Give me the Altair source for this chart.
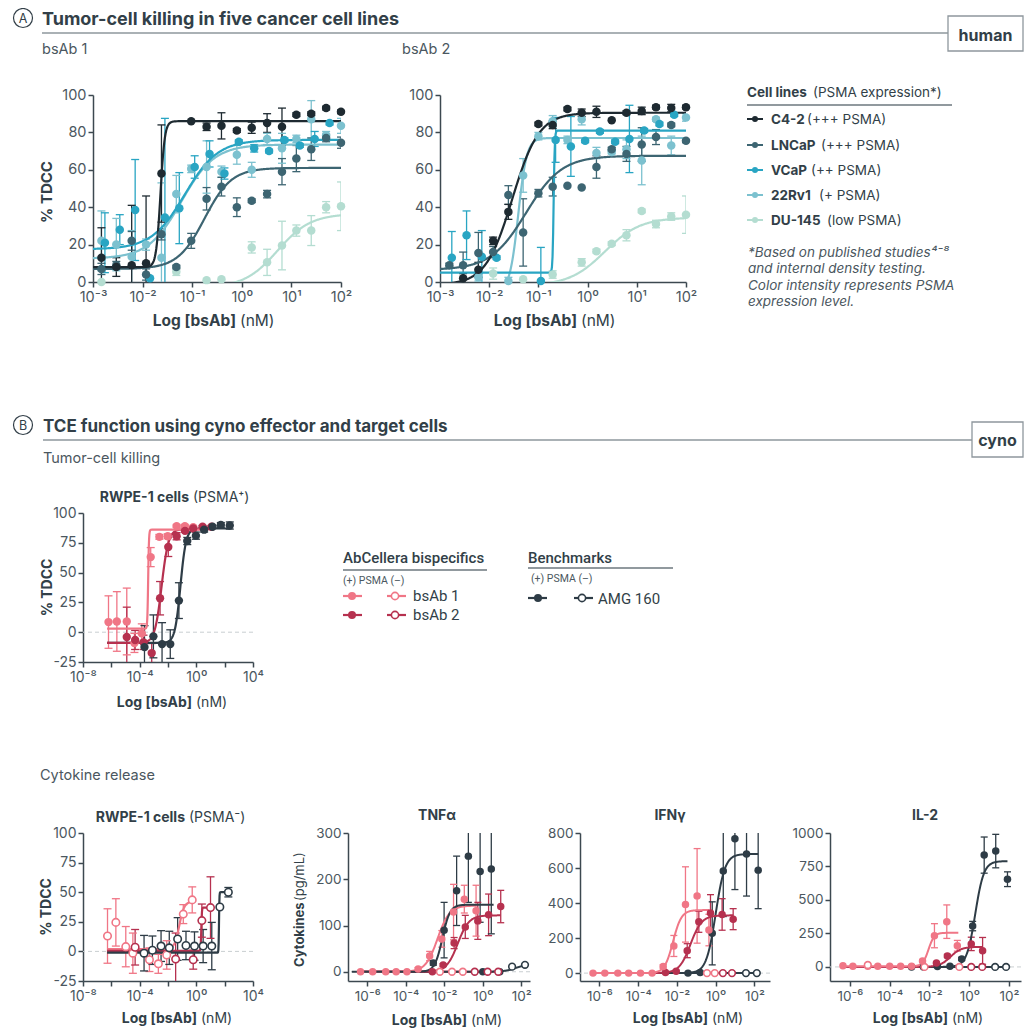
import altair as alt
import pandas as pd

FONT = "Inter"
LEGB_FONT = "Roboto"
INK = "#323f48"
SOFT = "#4b5760"
AXIS = "#3c4850"
RULE = "#8e979d"
ULINE = "#6d777e"

CELL_LINES = ["DU-145", "22Rv1", "VCaP", "LNCaP", "C4-2"]
CELL_COLORS = ["#b4ddd1", "#7cc1cf", "#29a5c3", "#3d6572", "#1e2a31"]
AGENTS = ["bsAb 1", "bsAb 2", "AMG 160"]
AGENT_COLORS = ["#f07686", "#b6314f", "#2e3c46"]

# ---------------- Panel A : bsAb 1 (x = log10 nM, y = % TDCC, e = error) ----------------
A1_C42_X = [-2.83, -2.53, -2.22, -1.93, -1.62, -1.02, -0.71, -0.41, -0.10, 0.20, 0.51, 0.81, 1.10, 1.40, 1.70, 2.00]
A1_C42_Y = [13, 8, 9, 10, 58, 86, 83, 83.5, 81, 82.5, 85, 83, 89.5, 90, 93, 91]
A1_C42_E = [16, 5, 32, 36, 26, 0, 2, 7, 1, 3, 5, 10, 1, 1, 1, 1]
A1_LNC_X = [-2.83, -2.53, -2.22, -1.93, -1.62, -1.32, -1.02, -0.71, -0.41, -0.10, 0.20, 0.51, 0.81, 1.10, 1.40, 1.70, 2.00]
A1_LNC_Y = [7, 9, 22, 4, 25.5, 8, 22, 44.5, 51, 40, 43.5, 47, 59, 66, 71, 77, 74.5]
A1_LNC_E = [3, 2, 5, 3, 3, 1, 4, 6, 5, 5, 1, 2, 7, 7, 6, 2, 3]
A1_VCP_X = [-2.76, -2.46, -2.15, -1.85, -1.55, -1.26, -0.95, -0.65, -0.35, -0.06, 0.25, 0.55, 0.86, 1.17, 1.47, 1.77]
A1_VCP_Y = [21, 28, 38.5, 2, 34.5, 39.5, 61.5, 68.5, 58, 75, 71.5, 70, 76, 73, 76.5, 85]
A1_VCP_E = [16, 8, 27, 0, 53, 19, 6, 7, 3, 1, 2, 1, 1, 1, 4, 1]
A1_22R_X = [-2.83, -2.53, -2.22, -1.93, -1.62, -1.32, -1.02, -0.71, -0.41, -0.10, 0.20, 0.51, 0.81, 1.10, 1.40, 1.70, 2.00]
A1_22R_Y = [22, 20, 13.5, 20, 13, 47, 60.5, 61.5, 59, 68, 60, 76.5, 71.5, 76.5, 87, 78.5, 83.5]
A1_22R_E = [16, 14, 14, 3, 40, 10, 2, 14, 3, 5, 4, 3, 8, 2, 10, 2, 4]
A1_DU_X = [-2.83, -1.32, -0.71, -0.41, 0.20, 0.51, 0.81, 1.10, 1.40, 1.70, 2.00]
A1_DU_Y = [0, 5.5, 1, 1.5, 18.5, 10.5, 19.5, 27.5, 27.5, 40, 40.5]
A1_DU_E = [0, 2, 0, 0, 3, 7, 13, 3, 8, 3, 13]
# fitted 4PL curves: (series, kind, bottom, top, logEC50, hill, x from, x to)
A1_CURVES = [("DU-145", "f", -3, 36.5, 0.72, 1.3, -3, 2), ("22Rv1", "f", 12.5, 73.5, -1.22, 1.3, -3, 2),
             ("VCaP", "f", 17.5, 76, -1.15, 1.3, -3, 2), ("LNCaP", "f", 7, 61, -0.75, 1.6, -3, 2),
             ("C4-2", "f", 8, 86, -1.64, 10, -3, 2)]

# ---------------- Panel A : bsAb 2 ----------------
A2_C42_X = [-2.53, -2.22, -1.92, -1.61, -1.00, -0.71, -0.41, -0.12, 0.18, 0.49, 0.79, 1.10, 1.39, 1.70, 2.00]
A2_C42_Y = [2, 6.5, 22, 37.5, 84.5, 84, 92.5, 90.5, 91, 86.5, 90.5, 91.5, 93.5, 93, 93.5]
A2_C42_E = [2.5, 4, 2, 4, 1, 2, 1, 2, 3, 0, 1, 2, 1, 2, 1]
A2_LNC_X = [-2.81, -2.53, -2.22, -1.92, -1.61, -1.31, -1.00, -0.71, -0.41, -0.12, 0.18, 0.49, 0.79, 1.10, 1.39, 1.70, 2.00]
A2_LNC_Y = [9, 9, 15.5, 16, 46.5, 26.5, 47.5, 51, 51.5, 50.5, 61.5, 71, 68.5, 73.5, 77.5, 84, 75.5]
A2_LNC_E = [1, 7, 11, 3, 5, 18, 2, 5, 0, 0, 6, 1, 4, 9, 4, 1, 1]
A2_VCP_X = [-2.76, -2.46, -2.15, -1.85, -0.95, -0.65, -0.34, -0.05, 0.25, 0.56, 0.85, 1.15, 1.46, 1.76]
A2_VCP_Y = [13, 25, 13.5, 13, 0.5, 76, 72.5, 75.5, 80.5, 75, 76.5, 81, 84.5, 89.5]
A2_VCP_E = [14, 13, 14, 1, 18, 12, 16, 1, 1, 1, 18, 1, 1, 1]
A2_22R_X = [-2.22, -1.61, -1.31, -1.00, -0.71, -0.41, -0.12, 0.18, 0.49, 0.79, 1.10, 1.39, 1.70, 2.00]
A2_22R_Y = [2.5, 0.5, 57, 78, 86, 76, 87, 69, 69.5, 71, 65, 87, 73, 88]
A2_22R_E = [2, 2, 9, 2, 3, 2, 3, 3, 1, 5, 13, 1, 5, 2]
A2_DU_X = [-1.92, -1.31, -0.71, -0.12, 0.18, 0.49, 0.79, 1.10, 1.39, 1.70, 2.00]
A2_DU_Y = [4.5, 1.5, 4, 10.5, 16.5, 20.5, 25, 38, 31, 35, 36]
A2_DU_E = [3, 0, 2, 2, 1, 1, 3, 1, 2, 2, 10]
A2_CURVES = [("DU-145", "f", -2, 34.5, 0.35, 1.2, -3, 2), ("22Rv1", "f", -5, 77, -1.41, 5, -3, 2),
             ("VCaP", "f", 5, 81, -0.69, 40, -3, 2), ("LNCaP", "f", 6.5, 67.5, -1.25, 1.2, -3, 2),
             ("C4-2", "f", -1.5, 90.5, -1.53, 1.6, -3, 2)]

# ---------------- Panel B : RWPE-1 PSMA+ killing ----------------
P_B1_X = [-6.20, -5.61, -4.91, -4.37, -3.85, -3.22, -2.61, -2.02, -1.39, -0.81, -0.22]
P_B1_Y = [8.5, 9, 9, -9, -1, 63, 80, 80.5, 89, 89, 88]
P_B1_E = [22, 25, 28, 8, 8, 8, 2, 2, 1, 1, 1]
P_B2_X = [-4.91, -4.32, -3.73, -3.15, -2.56, -1.98, -1.39, -0.80, -0.22, 0.44, 1.07]
P_B2_Y = [-4, -6.5, -8.5, -17.5, 28.5, 71.5, 80.5, 85, 87, 88.5, 88.5]
P_B2_E = [25, 8, 6, 8, 14, 8, 3, 1, 1, 1, 1]
P_AMG_X = [-3.66, -3.03, -2.42, -1.84, -1.23, -0.64, -0.03, 0.55, 1.14, 1.73, 2.36]
P_AMG_Y = [-12.5, -3.5, -10, -10, 26.5, 76.5, 81, 86, 88.5, 90, 89.5]
P_AMG_E = [18, 18, 18, 12, 15, 3, 3, 2, 1, 2, 3]
P_CURVES = [("AMG 160", "f", -9, 87, -1.12, 2.2, -6.3, 2.4), ("bsAb 2", "f", -9, 86.5, -2.45, 1.8, -6.3, 1.1),
            ("bsAb 1", "f", 3, 86, -3.4, 15, -6.3, 0.6)]

# ---------------- Panel B : RWPE-1 PSMA- killing ----------------
N_B1_X = [-6.27, -5.68, -4.98, -4.48, -3.31, -2.68, -2.09, -0.92, -0.29]
N_B1_Y = [13, 24.5, 4, -1.5, -7, -10.5, -3, 31.5, 43.5]
N_B1_E = [23, 20, 17, 17, 10, 8, 12, 8, 11]
N_B2_X = [-4.32, -1.46, -0.22, 0.39, 1.00]
N_B2_Y = [3.5, -6.5, -7, 26, 37]
N_B2_E = [15, 22, 8, 14, 26]
N_AMG_X = [-3.69, -3.10, -2.49, -1.91, -1.32, -0.73, -0.13, 0.48, 1.09, 1.66, 2.26]
N_AMG_Y = [-1.5, 1, 4.5, 3, 10.5, 5, 4.5, 4.5, 4.5, 37.5, 50]
N_AMG_E = [15, 12, 13, 14, 18, 12, 12, 14, 20, 0, 4]
N_CURVES = [("bsAb 1", "o", 2, 42, -1.2, 2.5, -6.3, -0.29), ("bsAb 2", "o", 0.5, 37, 0.35, 20, -6.3, 1.0),
            ("AMG 160", "o", -1, 50, 1.6, 30, -6.3, 2.26)]

# ---------------- Cytokines : TNFa (pg/mL) ----------------
T_B1_X = [-6.35, -5.72, -5.04, -4.50, -3.94, -3.36, -2.76, -2.13, -1.52, -0.96, -0.35]
T_B1_Y = [0, 0, 0, 0, 0, 6, 34, 71, 129, 157, 132]
T_B1_E = [0, 0, 0, 0, 0, 3, 10, 18, 60, 30, 55]
T_B2_X = [-2.62, -2.06, -1.49, -0.91, -0.26, 0.30, 0.93]
T_B2_Y = [0, 14.5, 62, 97, 110, 123, 141]
T_B2_E = [0, 3, 12, 25, 40, 45, 35]
T_AMG_X = [-2.57, -2.01, -1.36, -0.75, -0.14, 0.44, 0.00, 0.88]
T_AMG_Y = [19, 90, 175, 250, 217, 222, 0, 0]
T_AMG_E = [5, 60, 75, 100, 110, 140, 0, 0]
T_B1N_X = [-2.23, -1.60, -1.04]
T_B2N_X = [-0.42, 0.25, 0.80]
T_AMGN_X = [1.52, 2.19]
T_AMGN_Y = [11, 15]
T_CURVES = [("bsAb 1", "o", 0, 0, 0, 1, -6.35, -1.04), ("bsAb 2", "o", 0, 0, 0, 1, -6.35, 0.8),
            ("AMG 160", "o", 0, 16, 1.7, 1.5, -6.35, 2.19), ("bsAb 2", "f", 0, 122, -1.3, 1.5, -6.35, 0.93),
            ("bsAb 1", "f", 0, 143, -2.35, 1.4, -6.35, -0.35), ("AMG 160", "f", 0, 145, -2.1, 2.2, -6.8, 0.56)]

# ---------------- Cytokines : IFNg ----------------
I_B1_X = [-6.33, -5.72, -5.05, -4.49, -3.88, -3.28, -2.71, -2.16, -1.56, -0.96, -0.35]
I_B1_Y = [0, 0, 0, 0, 0, 0, 38, 155, 392, 441, 246]
I_B1_E = [0, 0, 0, 0, 0, 0, 10, 60, 215, 270, 90]
I_B2_X = [-2.59, -2.04, -1.47, -0.87, -0.27, 0.33, 0.90]
I_B2_Y = [4, 10, 128, 293, 343, 335, 308]
I_B2_E = [0, 5, 40, 60, 105, 90, 60]
I_AMG_X = [-1.43, -0.80, -0.18, 0.39, 0.99, 1.59, 2.19]
I_AMG_Y = [0, 3, 227, 583, 767, 680, 588]
I_AMG_E = [0, 0, 180, 260, 290, 240, 220]
I_B1N_X = [-0.45, -0.05]
I_B2N_X = [0.37, 0.84]
I_AMGN_X = [1.56, 2.12]
I_CURVES = [("bsAb 1", "o", 0, 0, 0, 1, -6.33, -0.05), ("bsAb 2", "o", 0, 0, 0, 1, -6.33, 0.84),
            ("AMG 160", "o", 0, 0, 0, 1, -6.33, 2.12), ("AMG 160", "f", 0, 680, 0.0, 1.8, -6.33, 2.19),
            ("bsAb 2", "f", 0, 330, -1.3, 1.5, -6.33, 0.90), ("bsAb 1", "f", 0, 360, -2.2, 2.0, -6.33, -0.35)]

# ---------------- Cytokines : IL-2 ----------------
L_B1_X = [-6.35, -5.85, -5.10, -4.60, -4.00, -3.45, -2.90, -2.35, -1.75, -1.13, -0.60]
L_B1_Y = [8, 5, 5, 5, 5, 5, 5, 45, 233, 338, 158]
L_B1_E = [0, 0, 0, 0, 0, 0, 0, 10, 90, 125, 40]
L_B2_X = [-1.65, -1.10, 0.10, 0.67]
L_B2_Y = [30, 82, 172, 120]
L_B2_E = [5, 12, 50, 100]
L_AMG_X = [-2.90, -2.30, -1.60, -0.97, -0.38, 0.17, 0.75, 1.33, 1.92]
L_AMG_Y = [0, 0, 3, 5, 60, 305, 835, 865, 655]
L_AMG_E = [0, 0, 0, 0, 12, 35, 135, 125, 55]
L_B1N_X = [-5.10, -2.25, -0.50]
L_B1N_Y = [15, 0, 0]
L_B2N_X = [0.10, 0.65]
L_AMGN_X = [1.30, 1.85]
L_CURVES = [("bsAb 1", "o", 0, 0, 0, 1, -6.35, -0.5), ("bsAb 2", "o", 0, 0, 0, 1, -6.35, 0.65),
            ("AMG 160", "o", 0, 0, 0, 1, -6.35, 1.85), ("AMG 160", "f", 0, 790, 0.3, 2.0, -6.35, 1.92),
            ("bsAb 2", "f", 0, 150, -0.95, 1.6, -6.35, 0.67), ("bsAb 1", "f", 5, 255, -2.05, 3, -6.35, -0.55)]

# ------------------------------------------------------------------------------------------
ONE = pd.DataFrame({"a": [0]})
SUPS = str.maketrans("-0123456789", "⁻⁰¹²³⁴⁵⁶⁷⁸⁹")


def pow_label(n):
    return "10" + str(n).translate(SUPS)


def lab_expr(ns):
    return " : ".join(f"datum.value == {n} ? '{pow_label(n)}'" for n in ns) + " : ''"


def pts_df(rows):
    recs = []
    for s, k, xs, ys, es in rows:
        ys = ys if ys is not None else [0] * len(xs)
        es = es if es is not None else [0] * len(xs)
        for x, y, e in zip(xs, ys, es):
            recs.append({"s": s, "k": k, "x": x, "y": y, "e": e})
    return pd.DataFrame(recs)


def curve_df(rows):
    return pd.DataFrame(rows, columns=["s", "k", "b", "t", "c", "h", "x0", "x1"])


def T(text, x, y, size=14, weight="normal", color=INK, align="left", style="normal",
      angle=0, baseline="alphabetic", font=FONT):
    return alt.Chart(ONE).mark_text(
        text=text, align=align, baseline=baseline, font=font, fontSize=size,
        fontWeight=weight, fontStyle=style, color=color, angle=angle
    ).encode(x=alt.value(x), y=alt.value(y))


def HR(x1, x2, y, color=RULE, w=1.3):
    return alt.Chart(ONE).mark_rule(color=color, strokeWidth=w).encode(
        x=alt.value(x1), x2=alt.value(x2), y=alt.value(y))


def BOX(x1, x2, y1, y2):
    return alt.Chart(ONE).mark_rect(fill="white", stroke=RULE, strokeWidth=1.3).encode(
        x=alt.value(x1), x2=alt.value(x2), y=alt.value(y1), y2=alt.value(y2))


def DOT(x, y, color, size=36, hollow=False):
    if hollow:
        m = alt.Chart(ONE).mark_point(shape="circle", filled=True, fill="white", stroke=color,
                                      strokeWidth=1.6, size=size, opacity=1)
    else:
        m = alt.Chart(ONE).mark_point(shape="circle", filled=True, color=color, size=size, opacity=1)
    return m.encode(x=alt.value(x), y=alt.value(y))


def RING(x, y, d):
    return alt.Chart(ONE).mark_point(shape="circle", filled=False, stroke=INK, strokeWidth=1.2,
                                     size=d * d, opacity=1).encode(x=alt.value(x), y=alt.value(y))


def SP(w, h):
    return alt.Chart(ONE).mark_point(opacity=0, size=0, strokeWidth=0).encode(
        x=alt.value(w / 2), y=alt.value(h / 2)).properties(width=w, height=h)


def panel(pts, curves, dom, rng, w, h, xdom, ydom, xticks, xlabels, yticks, lab, psize, cap,
          extra, zero=False, lw=2.2):
    xs = alt.Scale(domain=xdom, nice=False, zero=False)
    ys = alt.Scale(domain=ydom, nice=False, zero=False)
    common = dict(title=None, grid=False, labelFont=FONT, labelFontSize=lab, labelColor=SOFT,
                  domainColor=AXIS, tickColor=AXIS, domainWidth=1.5, tickWidth=1.5, tickSize=5,
                  labelOverlap=False)
    xa = alt.Axis(values=xticks, labelExpr=lab_expr(xlabels), labelPadding=3, labelFlush=False, **common)
    ya = alt.Axis(values=yticks, labelExpr="'' + datum.value", labelPadding=2, **common)
    cs = alt.Scale(domain=dom, range=rng)

    def X(f="x"):
        return alt.X(f + ":Q", scale=xs, axis=xa)

    def Y(f="y"):
        return alt.Y(f + ":Q", scale=ys, axis=ya)

    col = alt.Color("s:N", scale=cs, legend=None)
    layers = []
    if zero:
        layers.append(alt.Chart(pd.DataFrame({"z": [0]})).mark_rule(
            color="#c9ced1", strokeDash=[4, 3], strokeWidth=1).encode(y=Y("z")))
    err = alt.Chart(pts).transform_filter("datum.e > 0").transform_calculate(
        lo="datum.y - datum.e", hi="datum.y + datum.e")
    layers.append(err.mark_rule(strokeWidth=1.3, clip=True).encode(
        x=X(), y=Y("lo"), y2="hi:Q", color=col))
    for f in ("lo", "hi"):
        layers.append(err.mark_rule(strokeWidth=1.3, clip=True, xOffset=-cap, x2Offset=cap).encode(
            x=X(), x2="x:Q", y=Y(f), color=col))
    line = alt.Chart(curves).transform_calculate(
        key="datum.s + datum.k", seq="sequence(0, 401)"
    ).transform_flatten(["seq"]).transform_calculate(
        cx="datum.x0 + (datum.x1 - datum.x0) * datum.seq / 400"
    ).transform_calculate(
        cy="datum.b + (datum.t - datum.b) / (1 + pow(10, datum.h * (datum.c - datum.cx)))"
    ).mark_line(strokeWidth=lw, clip=True).encode(
        x=X("cx"), y=Y("cy"), color=col, detail="key:N", order="seq:Q")
    layers.append(line)
    layers.append(alt.Chart(pts).transform_filter("datum.k == 'f'").mark_circle(
        size=psize, opacity=1).encode(x=X(), y=Y(), color=col))
    layers.append(alt.Chart(pts).transform_filter("datum.k == 'o'").mark_point(
        shape="circle", filled=True, fill="white", size=psize * 0.8, strokeWidth=1.6, opacity=1
    ).encode(x=X(), y=Y(), stroke=alt.Stroke("s:N", scale=cs, legend=None)))
    layers.extend(extra)
    return alt.layer(*layers).properties(width=w, height=h)


def xtitle(bold_end, base, size):
    return [T("Log [bsAb]", bold_end, base, size, "bold", align="right"),
            T("(nM)", bold_end + 4, base, size)]


def ytitle(x, y, size, text="% TDCC"):
    return [T(text, x, y, size, "bold", angle=270, align="center", baseline="middle")]


# ---------------- Panel A charts ----------------
a1_pts = pts_df([("DU-145", "f", A1_DU_X, A1_DU_Y, A1_DU_E), ("22Rv1", "f", A1_22R_X, A1_22R_Y, A1_22R_E),
                 ("VCaP", "f", A1_VCP_X, A1_VCP_Y, A1_VCP_E), ("LNCaP", "f", A1_LNC_X, A1_LNC_Y, A1_LNC_E),
                 ("C4-2", "f", A1_C42_X, A1_C42_Y, A1_C42_E)])
a2_pts = pts_df([("DU-145", "f", A2_DU_X, A2_DU_Y, A2_DU_E), ("22Rv1", "f", A2_22R_X, A2_22R_Y, A2_22R_E),
                 ("VCaP", "f", A2_VCP_X, A2_VCP_Y, A2_VCP_E), ("LNCaP", "f", A2_LNC_X, A2_LNC_Y, A2_LNC_E),
                 ("C4-2", "f", A2_C42_X, A2_C42_Y, A2_C42_E)])
A_TICKS = [-3, -2, -1, 0, 1, 2]
pA1 = panel(a1_pts, curve_df(A1_CURVES), CELL_LINES, CELL_COLORS, 248, 187, [-3, 2], [0, 100],
            A_TICKS, A_TICKS, [0, 20, 40, 60, 80, 100], 14.5, 72, 4,
            ytitle(-46, 97, 15) + xtitle(143, 231, 15.5))
pA2 = panel(a2_pts, curve_df(A2_CURVES), CELL_LINES, CELL_COLORS, 246, 187, [-3, 2], [0, 100],
            A_TICKS, A_TICKS, [0, 20, 40, 60, 80, 100], 14.5, 72, 4,
            xtitle(137, 231, 15.5))

# legend A
LEG_A = [("C4-2", "(+++ PSMA)", 60, "#1e2a31"), ("LNCaP", "(+++ PSMA)", 74, "#3d6572"),
         ("VCaP", "(++ PSMA)", 64, "#29a5c3"), ("22Rv1", "(+ PSMA)", 72, "#7cc1cf"),
         ("DU-145", "(low PSMA)", 80, "#b4ddd1")]
LEG_A_Y = [24, 50, 75, 100, 125]
legA_layers = [T("Cell lines", 0, 1.7, 13.5, "bold"), T("(PSMA expression*)", 66, 1.7, 13.5),
               HR(0, 205, 10, ULINE, 1.3)]
for (name, rest, rx, c), yc in zip(LEG_A, LEG_A_Y):
    legA_layers += [HR(0, 16, yc, c, 2), DOT(8, yc, c, 36), T(name, 24, yc + 5, 13.5, "bold"),
                    T(rest, rx, yc + 5, 13.5)]
NOTE = ["*Based on published studies⁴⁻⁸", "and internal density testing.",
        "Color intensity represents PSMA", "expression level."]
for line_txt, yb in zip(NOTE, [162, 178, 195, 210.5]):
    legA_layers.append(T(line_txt, 1, yb, 13.5, color=SOFT, style="italic"))
legA = alt.layer(*legA_layers).properties(width=277, height=187)

# header A
header_A = alt.layer(
    RING(15, 10, 19), T("A", 15, 14.5, 12.5, align="center"),
    T("Tumor-cell killing in five cancer cell lines", 34, 17, 18, "bold"),
    HR(34, 940, 25), BOX(940, 1015, 8, 43), T("human", 977.5, 32.5, 16, "bold", align="center"),
    T("bsAb 1", 34, 46, 14.5, color=SOFT), T("bsAb 2", 394, 46, 14.5, color=SOFT)
).properties(width=1016, height=87)

# header B
header_B = alt.layer(
    RING(15, 143, 19), T("B", 15, 147.5, 12.5, align="center"),
    T("TCE function using cyno effector and target cells", 35, 150, 17, "bold"),
    HR(35, 964, 158), BOX(964, 1015, 140, 175), T("cyno", 989.5, 163.5, 16, "bold", align="center"),
    T("Tumor-cell killing", 35, 181, 14.5, color=SOFT),
    T("RWPE-1 cells", 181, 220, 14, "bold", align="right"), T("(PSMA⁺)", 185, 220, 14)
).properties(width=1016, height=231)

# RWPE-1 PSMA+ panel
R_TICKS = [-8, -6, -4, -2, 0, 2, 4]
R_LABS = [-8, -4, 0, 4]
pos_pts = pts_df([("bsAb 1", "f", P_B1_X, P_B1_Y, P_B1_E), ("bsAb 2", "f", P_B2_X, P_B2_Y, P_B2_E),
                  ("AMG 160", "f", P_AMG_X, P_AMG_Y, P_AMG_E)])
pPos = panel(pos_pts, curve_df(P_CURVES), AGENTS, AGENT_COLORS, 170, 149, [-8, 4], [-25, 100],
             R_TICKS, R_LABS, [-25, 0, 25, 50, 75, 100], 14, 70, 4,
             ytitle(-35, 74.5, 14) + xtitle(109, 193.7, 14), zero=True)

# legend B
PINK, RED, DARK = AGENT_COLORS
legB = alt.layer(
    T("AbCellera bispecifics", 1, 50, 15, 500, font=LEGB_FONT), HR(1, 145, 57, ULINE, 1.3),
    T("(+) PSMA (–)", 1, 71, 10.5, color=SOFT, font=LEGB_FONT),
    HR(1, 20, 83, PINK, 2.2), DOT(10, 83, PINK, 64), HR(45, 64, 83, PINK, 2.2), DOT(53, 83, PINK, 52, True),
    T("bsAb 1", 71, 88, 15, font=LEGB_FONT),
    HR(1, 20, 102, RED, 2.2), DOT(10, 102, RED, 64), HR(45, 64, 102, RED, 2.2), DOT(53, 102, RED, 52, True),
    T("bsAb 2", 71, 106.5, 15, font=LEGB_FONT),
    T("Benchmarks", 186, 50, 15, 500, font=LEGB_FONT), HR(186, 331, 55, ULINE, 1.3),
    T("(+) PSMA (–)", 189, 69, 10.5, color=SOFT, font=LEGB_FONT),
    HR(186, 205, 85, DARK, 2.2), DOT(196, 85, DARK, 64), HR(232, 251, 85, DARK, 2.2),
    DOT(240, 85, DARK, 52, True), T("AMG 160", 256, 90.5, 15, font=LEGB_FONT)
).properties(width=682, height=149)

# header C (cytokine titles)
header_C = alt.layer(
    T("Cytokine release", 32, 118, 14.5, color=SOFT),
    T("RWPE-1 cells", 177, 159.7, 14, "bold", align="right"), T("(PSMA⁻)", 181, 159.7, 14),
    T("TNFα", 429, 157.5, 14, "bold", align="center"),
    T("IFNγ", 662, 157.5, 14, "bold", align="center"),
    T("IL-2", 917, 157.5, 14, "bold", align="center")
).properties(width=1016, height=171)

# RWPE-1 PSMA- panel
neg_pts = pts_df([("bsAb 1", "o", N_B1_X, N_B1_Y, N_B1_E), ("bsAb 2", "o", N_B2_X, N_B2_Y, N_B2_E),
                  ("AMG 160", "o", N_AMG_X, N_AMG_Y, N_AMG_E)])
pNeg = panel(neg_pts, curve_df(N_CURVES), AGENTS, AGENT_COLORS, 170, 148, [-8, 4], [-25, 100],
             R_TICKS, R_LABS, [-25, 0, 25, 50, 75, 100], 14, 70, 4,
             ytitle(-36, 74, 14) + xtitle(114, 190, 14), zero=True)

C_TICKS = [-6, -4, -2, 0, 2]
cyto_ytitle = [T("Cytokines", -48, 134, 13, "bold", angle=270, align="left", baseline="middle"),
               T("(pg/mL)", -48, 68, 13, angle=270, align="left", baseline="middle")]

t_pts = pts_df([("bsAb 1", "o", T_B1N_X, None, None), ("bsAb 2", "o", T_B2N_X, None, None),
                ("AMG 160", "o", T_AMGN_X, T_AMGN_Y, None),
                ("bsAb 2", "f", T_B2_X, T_B2_Y, T_B2_E), ("bsAb 1", "f", T_B1_X, T_B1_Y, T_B1_E),
                ("AMG 160", "f", T_AMG_X, T_AMG_Y, T_AMG_E)])
pT = panel(t_pts, curve_df(T_CURVES), AGENTS, AGENT_COLORS, 182, 148, [-7, 2.45], [-20, 300],
           C_TICKS, C_TICKS, [0, 100, 200, 300], 13.5, 56, 3.5,
           cyto_ytitle + xtitle(119, 192, 14), zero=True, lw=2)

i_pts = pts_df([("bsAb 1", "o", I_B1N_X, None, None), ("bsAb 2", "o", I_B2N_X, None, None),
                ("AMG 160", "o", I_AMGN_X, None, None),
                ("AMG 160", "f", I_AMG_X, I_AMG_Y, I_AMG_E), ("bsAb 2", "f", I_B2_X, I_B2_Y, I_B2_E),
                ("bsAb 1", "f", I_B1_X, I_B1_Y, I_B1_E)])
pI = panel(i_pts, curve_df(I_CURVES), AGENTS, AGENT_COLORS, 190, 148, [-7, 2.8], [-45, 800],
           C_TICKS, C_TICKS, [0, 200, 400, 600, 800], 13.5, 56, 3.5,
           xtitle(128, 190, 14), zero=True, lw=2)

l_pts = pts_df([("bsAb 1", "o", L_B1N_X, L_B1N_Y, None), ("bsAb 2", "o", L_B2N_X, None, None),
                ("AMG 160", "o", L_AMGN_X, None, None),
                ("AMG 160", "f", L_AMG_X, L_AMG_Y, L_AMG_E), ("bsAb 2", "f", L_B2_X, L_B2_Y, L_B2_E),
                ("bsAb 1", "f", L_B1_X, L_B1_Y, L_B1_E)])
pL = panel(l_pts, curve_df(L_CURVES), AGENTS, AGENT_COLORS, 191, 148, [-7, 2.6], [-105, 1000],
           C_TICKS, C_TICKS, [0, 250, 500, 750, 1000], 13.5, 56, 3.5,
           xtitle(118, 190, 14), zero=True, lw=2)

# rows of panels (nested concats occupy no height in a flush layout, so a spacer follows each)
row2 = alt.hconcat(SP(85, 187), pA1, SP(99, 187), pA2, SP(61, 187), legA, spacing=0, bounds="flush")
row4 = alt.hconcat(SP(75, 149), pPos, SP(89, 149), legB, spacing=0, bounds="flush")
row6 = alt.hconcat(SP(75, 148), pNeg, SP(95, 148), pT, SP(50, 148), pI, SP(60, 148), pL, SP(3, 148),
                   spacing=0, bounds="flush")

chart = alt.vconcat(
    header_A, row2, SP(1016, 187), header_B, row4, SP(1016, 149), header_C, row6, SP(1016, 148),
    spacing=0, bounds="flush"
).resolve_scale(color="independent", stroke="independent"
).properties(padding={"top": -2, "left": 0, "right": 0, "bottom": 0}, background="white"
).configure_view(stroke=None)

chart.save("out.html", embed_options={"renderer": "svg", "actions": False})
